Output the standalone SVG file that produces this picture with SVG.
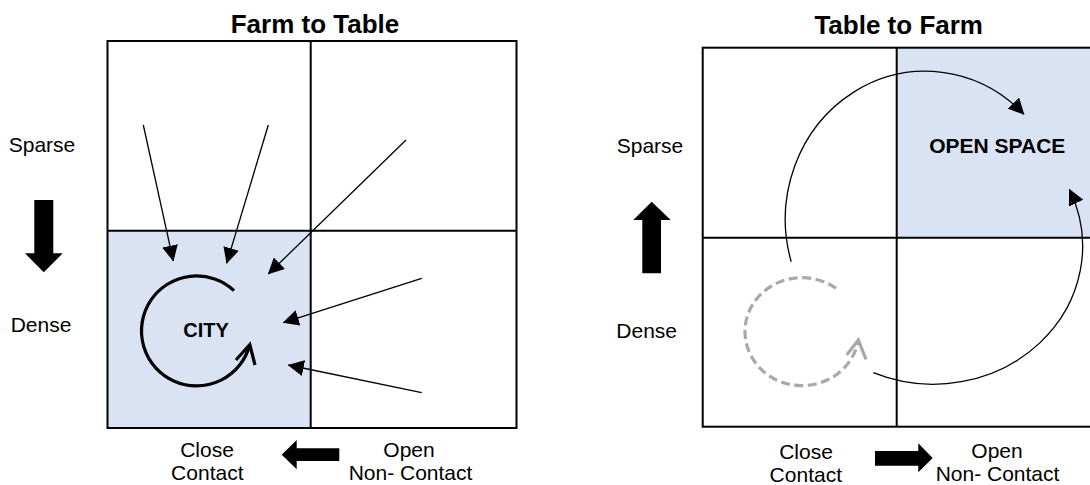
<svg xmlns="http://www.w3.org/2000/svg" width="1090" height="485" viewBox="0 0 1090 485">
  <style>
    .title { font-family: "Liberation Sans", Arial, sans-serif; font-size: 26px; font-weight: bold; fill: #000; text-anchor: middle; }
    .label { font-family: "Liberation Sans", Arial, sans-serif; font-size: 21px; fill: #000; text-anchor: middle; }
    .zone { font-family: "Liberation Sans", Arial, sans-serif; font-size: 20px; font-weight: bold; fill: #000; text-anchor: middle; }
    .frame { fill: none; stroke: #000; stroke-width: 2; }
    .fill { fill: #dae3f3; }
    .flow { fill: none; stroke: #000; stroke-width: 1.3; marker-end: url(#tri); }
    .block { fill: #000; }
    .loop { fill: none; stroke: #000; stroke-width: 3.2; stroke-linecap: butt; }
    .loop-dash { fill: none; stroke: #a9a9a9; stroke-width: 3.2; stroke-dasharray: 9 4.5; }
  </style>
  <defs>
    <marker id="tri" markerUnits="userSpaceOnUse" markerWidth="16" markerHeight="16" viewBox="0 0 15 15" refX="14.5" refY="7.5" orient="auto">
      <path d="M0,0 L15,7.5 L0,15 z" fill="#000"/>
    </marker>
  </defs>

  <!-- Farm to Table panel -->
  <g id="panel-farm-to-table">
    <text class="title" x="315" y="33">Farm to Table</text>
    <rect class="fill" x="107.5" y="230.7" width="203.2" height="197.3"/>
    <rect class="frame" x="107.5" y="41" width="409" height="387"/>
    <line class="frame" x1="310.7" y1="41" x2="310.7" y2="428"/>
    <line class="frame" x1="107.5" y1="230.7" x2="516.5" y2="230.7"/>
  </g>

  <g id="city">
    <text class="zone" x="206" y="337.3">CITY</text>
    <path class="loop" d="M234,290.7 A55,55 0 1 0 249.8,344.5"/>
    <polyline class="loop" points="236,360 249.8,344.5 255,365"/>
  </g>

  <g id="axis-left">
    <text class="label" x="42" y="151.7">Sparse</text>
    <text class="label" x="41" y="331.7">Dense</text>
    <polygon class="block" points="34.3,200 53.3,200 53.3,253.3 62.7,253.3 43.8,272.3 25,253.3 34.3,253.3"/>
    <text class="label" x="207" y="456.7">Close</text>
    <text class="label" x="207.3" y="480">Contact</text>
    <text class="label" x="409" y="456.7">Open</text>
    <text class="label" x="410.5" y="480">Non- Contact</text>
    <polygon class="block" points="339.3,448.3 296.7,448.3 296.7,440 281.7,454.7 296.7,469.3 296.7,461 339.3,461"/>
  </g>

  <!-- Table to Farm panel -->
  <g id="panel-table-to-farm">
    <text class="title" x="898.7" y="34">Table to Farm</text>
    <rect class="fill" x="896.7" y="47.7" width="194.3" height="190"/>
    <rect class="frame" x="702.7" y="47.7" width="388.3" height="379"/>
    <line class="frame" x1="896.7" y1="47.7" x2="896.7" y2="426.7"/>
    <line class="frame" x1="702.7" y1="237.7" x2="1091" y2="237.7"/>
  </g>

  <g id="open-space">
    <text class="zone" x="997.3" y="153.3" style="font-size:21px">OPEN SPACE</text>
  </g>

  <g id="local-loop">
    <path class="loop-dash" d="M836,288.3 A57,54 0 1 0 858.3,340"/>
    <polyline class="loop-dash" points="846.7,355 858.3,340 866,359.3" style="stroke-dasharray:none"/>
  </g>

  <g id="axis-right">
    <text class="label" x="650" y="153.3">Sparse</text>
    <text class="label" x="646.7" y="338.3">Dense</text>
    <polygon class="block" points="642.3,273.3 661,273.3 661,220 670.7,220 651.7,201.7 633.3,220 642.3,220"/>
    <text class="label" x="806" y="459">Close</text>
    <text class="label" x="805.8" y="481.5">Contact</text>
    <text class="label" x="997" y="457.7">Open</text>
    <text class="label" x="997.5" y="480.5">Non- Contact</text>
    <polygon class="block" points="875,451 918.3,451 918.3,443.3 932.7,458 918.3,472.3 918.3,465.7 875,465.7"/>
  </g>

  <!-- connectors -->
  <g id="connectors">
    <line class="flow" x1="143.3" y1="125" x2="173.3" y2="261"/>
    <line class="flow" x1="268.3" y1="125" x2="226.7" y2="263.3"/>
    <line class="flow" x1="406" y1="140" x2="268.3" y2="274"/>
    <line class="flow" x1="421.7" y1="278.3" x2="283.3" y2="322.7"/>
    <line class="flow" x1="421.7" y1="392.7" x2="288.3" y2="365"/>
    <path class="flow" d="M791.2,261.7 A140,148 0 0 1 1024,114.3"/>
    <path class="flow" d="M873.3,372.7 A149.5,138 0 0 0 1069.3,189.3"/>
  </g>
</svg>
